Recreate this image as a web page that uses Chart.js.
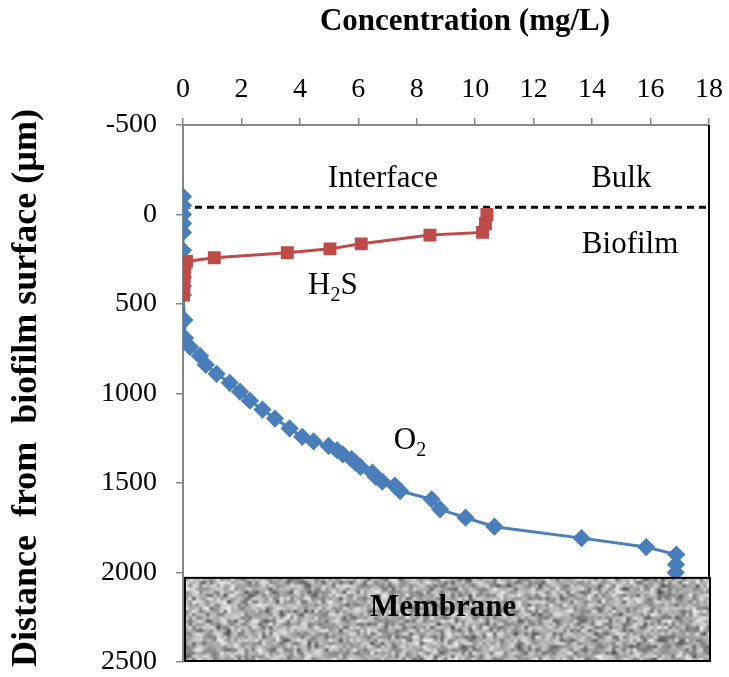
<!DOCTYPE html>
<html><head><meta charset="utf-8">
<script src="https://cdn.jsdelivr.net/npm/chart.js@4"></script>
<style>html,body{margin:0;padding:0;background:#fff;}#wrap{width:729px;height:677px;}</style>
</head><body><div id="wrap"><canvas id="c" width="729" height="677"></canvas></div>
<script>
// ---- data ----
const xTickValues = [0, 2, 4, 6, 8, 10, 12, 14, 16, 18];
const yTickValues = [-500, 0, 500, 1000, 1500, 2000, 2500];

const o2Depth = [-100, -50, 0, 50, 100, 200, 250, 300, 350, 400, 450, 590, 690, 740, 790, 840, 890, 940, 990, 1040, 1090, 1140, 1195, 1242, 1268, 1293, 1317, 1340, 1367, 1386, 1410, 1442, 1466, 1492, 1515, 1545, 1591, 1647, 1694, 1744, 1808, 1858, 1900, 1955, 2000];
const o2Conc  = [0, 0, 0, 0, 0, 0, 0, 0, 0, 0, 0, 0.05, 0.07, 0.24, 0.58, 0.78, 1.15, 1.6, 1.95, 2.29, 2.72, 3.15, 3.65, 4.08, 4.47, 4.98, 5.27, 5.47, 5.77, 5.9, 6.07, 6.48, 6.6, 6.82, 7.25, 7.43, 8.51, 8.8, 9.67, 10.66, 13.64, 15.85, 16.88, 16.87, 16.86];

const h2sDepth = [0, 50, 100, 115, 164, 192, 214, 242, 262, 300, 350, 400, 450];
const h2sConc  = [10.4, 10.35, 10.25, 8.45, 6.1, 5.03, 3.57, 1.07, 0.12, 0.05, 0.04, 0.03, 0.02];

const interfaceDepth = -40;
const membraneTop = 2030;

const labels = [
  {text: 'Interface', x: 6.84, y: -201},
  {text: 'Bulk', x: 15.0, y: -201},
  {text: 'Biofilm', x: 15.3, y: 168}
];

// ---- helpers ----
const toPts = (xs, ys) => xs.map((v, i) => ({x: v, y: ys[i]}));
const SERIF = '"Liberation Serif", "Times New Roman", serif';

// deterministic noise texture for the membrane
function makeNoise(w, h) {
  const c = document.createElement('canvas');
  c.width = w; c.height = h;
  const g = c.getContext('2d');
  const img = g.createImageData(w, h);
  let s = 12345;
  const rnd = () => { s = (s * 1103515245 + 12345) & 0x7fffffff; return s / 0x7fffffff; };
  for (let i = 0; i < w * h; i++) {
    const v = 50 + 205 * Math.pow(0.5 * rnd() + 0.5 * rnd(), 0.75);
    img.data[i * 4] = img.data[i * 4 + 1] = img.data[i * 4 + 2] = v;
    img.data[i * 4 + 3] = 255;
  }
  g.putImageData(img, 0, 0);
  return c;
}
const noise = makeNoise(150, 26);

function subText(ctx, main, sub, tail, cx, cy, size) {
  ctx.font = size + 'px ' + SERIF;
  const w1 = ctx.measureText(main).width;
  const w3 = tail ? ctx.measureText(tail).width : 0;
  ctx.font = Math.round(size * 0.65) + 'px ' + SERIF;
  const w2 = ctx.measureText(sub).width;
  let x = cx - (w1 + w2 + w3) / 2;
  ctx.textAlign = 'left'; ctx.textBaseline = 'alphabetic';
  ctx.font = size + 'px ' + SERIF;
  ctx.fillText(main, x, cy); x += w1;
  ctx.font = Math.round(size * 0.65) + 'px ' + SERIF;
  ctx.fillText(sub, x, cy + size * 0.22); x += w2;
  if (tail) { ctx.font = size + 'px ' + SERIF; ctx.fillText(tail, x, cy); }
}

const decor = {
  id: 'decor',
  afterDatasetsDraw(chart) {
    const {ctx, scales: {x, y}} = chart;
    ctx.save();
    // right border
    ctx.strokeStyle = '#000'; ctx.lineWidth = 2;
    ctx.beginPath();
    ctx.moveTo(x.getPixelForValue(18), y.getPixelForValue(-500));
    ctx.lineTo(x.getPixelForValue(18), y.getPixelForValue(membraneTop));
    ctx.stroke();
    // membrane
    const L = x.getPixelForValue(0) + 2, R = x.getPixelForValue(18) + 1;
    const T = y.getPixelForValue(membraneTop), B = y.getPixelForValue(2500) - 1;
    ctx.imageSmoothingEnabled = true;
    ctx.drawImage(noise, L, T, R - L, B - T);
    ctx.lineWidth = 2; ctx.strokeStyle = '#000';
    ctx.strokeRect(L, T, R - L, B - T);
    ctx.fillStyle = '#000';
    ctx.textAlign = 'center'; ctx.textBaseline = 'middle';
    ctx.font = 'bold 31px ' + SERIF;
    ctx.fillText('Membrane', x.getPixelForValue(8.9), y.getPixelForValue(2198));
    // labels
    ctx.font = '31px ' + SERIF;
    labels.forEach(l => ctx.fillText(l.text, x.getPixelForValue(l.x), y.getPixelForValue(l.y)));
    subText(ctx, 'H', '2', 'S', x.getPixelForValue(5.13), y.getPixelForValue(387) + 10, 31);
    subText(ctx, 'O', '2', '', x.getPixelForValue(7.77), y.getPixelForValue(1254) + 10, 31);
    // axis titles
    ctx.textAlign = 'center'; ctx.textBaseline = 'middle';
    ctx.font = 'bold 31px ' + SERIF;
    ctx.fillText('Concentration (mg/L)', 465, 22);
    ctx.translate(27, 388);
    ctx.rotate(-Math.PI / 2);
    ctx.font = 'bold 36px ' + SERIF;
    ctx.fillText('Distance  from  biofilm surface (\u00b5m)', 0, 0);
    ctx.restore();
  }
};

new Chart(document.getElementById('c'), {
  type: 'scatter',
  data: {
    datasets: [
      {label: 'H2S', data: toPts(h2sConc, h2sDepth), showLine: true, order: 0,
       borderColor: '#be4b48', backgroundColor: '#be4b48', borderWidth: 3,
       pointStyle: 'rect', pointRadius: 7, pointHoverRadius: 7},
      {label: 'O2', data: toPts(o2Conc, o2Depth), showLine: true, order: 1,
       borderColor: '#4a7ebb', backgroundColor: '#4a7ebb', borderWidth: 3,
       pointStyle: 'rectRot', pointRadius: 7, pointHoverRadius: 7},
      {label: 'Interface', data: [{x: 0, y: interfaceDepth}, {x: 18, y: interfaceDepth}], showLine: true, order: 2,
       borderColor: '#000', borderWidth: 3, borderDash: [7, 5], pointRadius: 0}
    ]
  },
  options: {
    responsive: false, animation: false, devicePixelRatio: 1,
    layout: {padding: {left: 0, top: 0, right: 20, bottom: 15}},
    plugins: {legend: {display: false}, tooltip: {enabled: false}},
    scales: {
      x: {type: 'linear', position: 'top', min: 0, max: 18,
          afterFit: s => { s.height = 125; s.paddingLeft = 0; s.paddingRight = 0; },
          afterBuildTicks: s => { s.ticks = xTickValues.map(v => ({value: v})); },
          ticks: {font: {family: SERIF, size: 28}, color: '#000', padding: 12, callback: v => String(v)},
          grid: {drawOnChartArea: false, drawTicks: true, tickLength: 7, color: '#868686', lineWidth: 1.5},
          border: {display: true, color: '#868686', width: 2}},
      y: {type: 'linear', reverse: true, min: -500, max: 2500,
          afterFit: s => { s.width = 183; s.paddingTop = 0; s.paddingBottom = 0; },
          afterBuildTicks: s => { s.ticks = yTickValues.map(v => ({value: v})); },
          ticks: {font: {family: SERIF, size: 28}, color: '#000', padding: 19, callback: v => String(v)},
          grid: {drawOnChartArea: false, drawTicks: true, tickLength: 7, color: '#868686', lineWidth: 1.5},
          border: {display: true, color: '#868686', width: 2}}
    }
  },
  plugins: [decor]
});
</script></body></html>
